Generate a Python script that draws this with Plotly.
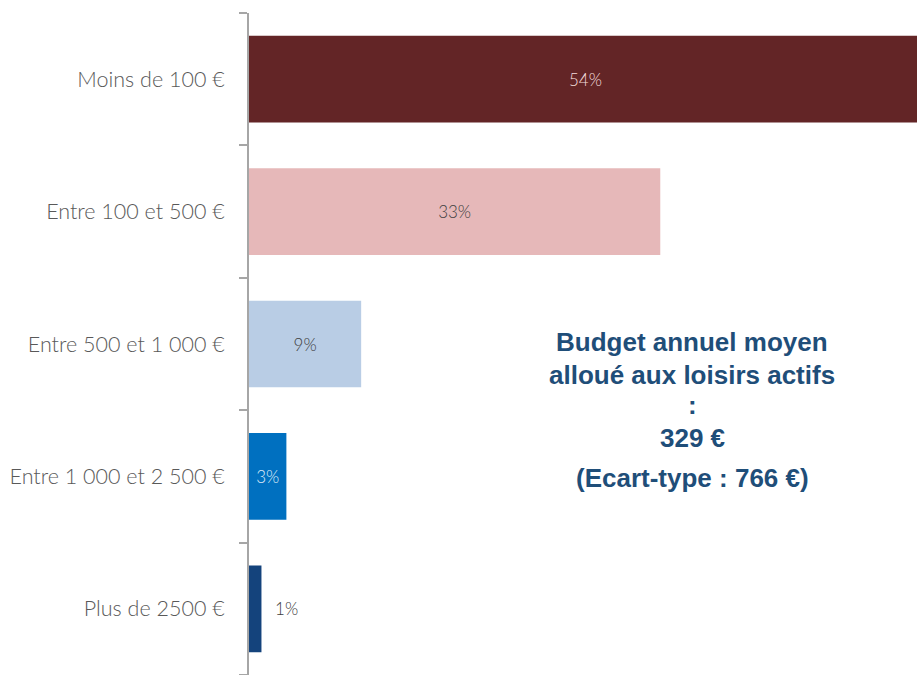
import plotly.graph_objects as go

# Budget brackets, top to bottom
categories = ["Moins de 100 €", "Entre 100 et 500 €", "Entre 500 et 1 000 €",
              "Entre 1 000 et 2 500 €", "Plus de 2500 €"]
shares = [54, 33, 9, 3, 1]
bar_colors = ["#632526", "#E6B8B9", "#B9CDE5", "#0070C0", "#14437C"]
label_colors = ["#F2DCDB", "#404040", "#404040", "#DDEBF7", "#404040"]
label_positions = ["inside", "inside", "inside", "inside", "outside"]

summary_lines = ["Budget annuel moyen", "alloué aux loisirs actifs", ":", "329 €",
                 "(Ecart-type : 766 €)"]
summary_y = [342, 375, 405, 438, 478]

W, H = 917, 675
M_L, M_T = 249, 13

bar_text = [f"{v}%" if pos == "inside" else f"\u2002\u2009{v}%"
            for v, pos in zip(shares, label_positions)]

fig = go.Figure(go.Bar(
    x=shares,
    y=categories,
    orientation="h",
    marker=dict(color=bar_colors, line=dict(width=0)),
    text=bar_text,
    textposition=label_positions,
    insidetextanchor="middle",
    textfont=dict(family="Lato", size=17, color=label_colors, weight=300),
    outsidetextfont=dict(family="Lato", size=17, color="#404040", weight=300),
    constraintext="none",
    cliponaxis=True,
    width=0.655,
))

plot_w, plot_h = W - M_L, H - M_T
for line, yy in zip(summary_lines, summary_y):
    fig.add_annotation(
        x=(692 - M_L) / plot_w, y=(H - yy) / plot_h, xref="paper", yref="paper",
        xanchor="center", yanchor="middle",
        text=f"<b>{line}</b>", showarrow=False,
        font=dict(family="Liberation Sans, Arial", size=26, color="#1F4E79"),
    )

fig.update_layout(
    width=W, height=H,
    margin=dict(l=M_L, r=0, t=M_T, b=0),
    plot_bgcolor="white", paper_bgcolor="white",
    showlegend=False,
)
fig.update_xaxes(range=[0, 53.6], visible=False, fixedrange=True)
fig.update_yaxes(
    categoryorder="array", categoryarray=categories[::-1],
    tickson="boundaries", ticks="outside", ticklen=8, tickwidth=2, tickcolor="#A6A6A6",
    showline=True, linecolor="#A6A6A6", linewidth=2,
    showgrid=False, ticklabelstandoff=18,
    tickfont=dict(family="Lato", size=21.5, color="#595959", weight=300),
)

fig.write_html("out.html")
